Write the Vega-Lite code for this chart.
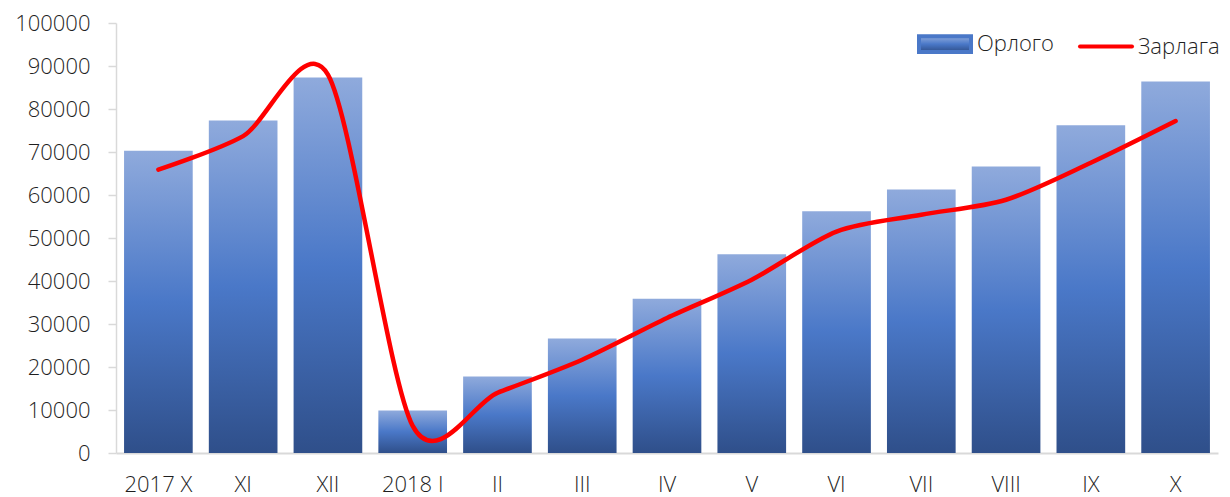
{
  "$schema": "https://vega.github.io/schema/vega-lite/v6.json",
  "autosize": {"type": "none"},
  "width": 1102,
  "height": 430,
  "padding": {"left": 116, "top": 23, "right": 12, "bottom": 44},
  "background": "white",
  "config": {
    "view": {"stroke": null},
    "font": "Open Sans",
    "axis": {"labelFont": "Open Sans", "labelFontSize": 22, "labelFontWeight": 300, "labelColor": "#1f1f1f", "grid": false, "domainColor": "#D9D9D9", "domainWidth": 1.5, "tickColor": "#D9D9D9", "tickWidth": 1.5}
  },
  "data": {
    "values": [
      {"month": "2017 X", "orlogo": 70300, "zarlaga": 65900},
      {"month": "XI", "orlogo": 77300, "zarlaga": 73700},
      {"month": "XII", "orlogo": 87300, "zarlaga": 88000},
      {"month": "2018 I", "orlogo": 9900, "zarlaga": 6300},
      {"month": "II", "orlogo": 17800, "zarlaga": 14000},
      {"month": "III", "orlogo": 26600, "zarlaga": 21700},
      {"month": "IV", "orlogo": 35900, "zarlaga": 31400},
      {"month": "V", "orlogo": 46200, "zarlaga": 40300},
      {"month": "VI", "orlogo": 56200, "zarlaga": 51500},
      {"month": "VII", "orlogo": 61300, "zarlaga": 55400},
      {"month": "VIII", "orlogo": 66600, "zarlaga": 58900},
      {"month": "IX", "orlogo": 76200, "zarlaga": 67500},
      {"month": "X", "orlogo": 86400, "zarlaga": 77200}
    ]
  },
  "encoding": {
    "x": {
      "field": "month", "type": "nominal", "sort": null, "title": null,
      "scale": {"paddingInner": 0.19, "paddingOuter": 0.095},
      "axis": {"labelAngle": 0, "ticks": false, "labelPadding": 21, "domainWidth": 2}
    }
  },
  "layer": [
    {
      "mark": {
        "type": "bar",
        "color": {
          "gradient": "linear", "x1": 0, "y1": 0, "x2": 0, "y2": 1,
          "stops": [
            {"offset": 0, "color": "#8FAADC"},
            {"offset": 0.5, "color": "#4A78C8"},
            {"offset": 1, "color": "#2F4F8A"}
          ]
        }
      },
      "encoding": {
        "y": {
          "field": "orlogo", "type": "quantitative", "title": null,
          "scale": {"domain": [0, 100000], "nice": false},
          "axis": {"values": [0, 10000, 20000, 30000, 40000, 50000, 60000, 70000, 80000, 90000, 100000], "format": "d", "tickSize": 8, "labelPadding": 18}
        }
      }
    },
    {
      "mark": {"type": "line", "interpolate": "cardinal", "tension": 0.15, "strokeWidth": 4.5, "strokeCap": "round"},
      "encoding": {
        "y": {"field": "zarlaga", "type": "quantitative"},
        "color": {
          "datum": "Зарлага",
          "scale": {"domain": ["Орлого", "Зарлага"], "range": ["#4A78C8", "#FF0000"]},
          "legend": {
            "title": null,
            "orient": "none",
            "legendX": 801,
            "legendY": -7,
            "direction": "horizontal",
            "labelFont": "Open Sans",
            "labelFontSize": 22,
            "labelFontWeight": 300,
            "labelColor": "#1f1f1f",
            "labelOffset": 4,
            "columnPadding": 18,
            "symbolSize": 2704,
            "symbolStrokeWidth": 4,
            "symbolType": "M-1,-0.3H1V0.3H-1Z",
            "encode": {
              "symbols": {
                "update": {
                  "shape": [
                    {"test": "datum.value === 'Орлого'", "value": "M-1,-0.3H1V0.3H-1Z"},
                    {"value": "M-1,0H1"}
                  ],
                  "fill": [
                    {"test": "datum.value === 'Орлого'", "value": {"gradient": "linear", "x1": 0, "y1": 0, "x2": 0, "y2": 1, "stops": [{"offset": 0, "color": "#8FAADC"}, {"offset": 0.5, "color": "#4A78C8"}, {"offset": 1, "color": "#2F4F8A"}]}},
                    {"value": "transparent"}
                  ],
                  "stroke": [
                    {"test": "datum.value === 'Орлого'", "value": "transparent"},
                    {"value": "#FF0000"}
                  ],
                  "strokeWidth": {"value": 4},
                  "strokeCap": {"value": "round"},
                  "size": {"value": 2704},
                  "opacity": {"value": 1}
                }
              }
            }
          }
        }
      }
    }
  ]
}
